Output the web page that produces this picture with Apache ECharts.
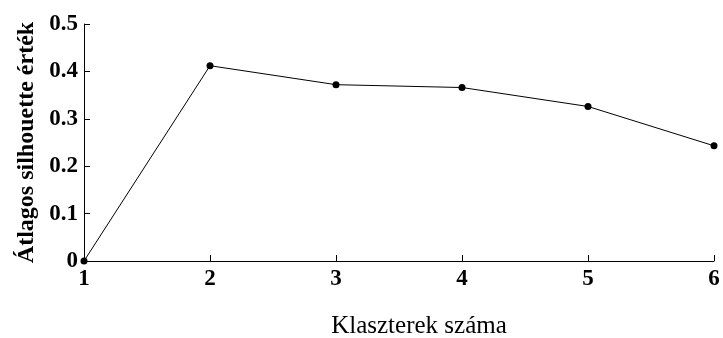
<!DOCTYPE html>
<html>
<head>
<meta charset="utf-8">
<script src="https://cdn.jsdelivr.net/npm/echarts@6/dist/echarts.min.js"></script>
<style>
html,body{margin:0;padding:0;background:#fff;}
#chart{width:723px;height:338px;}
</style>
</head>
<body>
<div id="chart"></div>
<script>
const clusters = [1, 2, 3, 4, 5, 6];
const silhouette = [0.0, 0.412, 0.372, 0.366, 0.326, 0.243];
const yTicks = [0, 0.1, 0.2, 0.3, 0.4, 0.5];
const xTitle = 'Klaszterek száma';
const yTitle = 'Átlagos silhouette érték';

const chart = echarts.init(document.getElementById('chart'), null, {renderer: 'canvas'});
const font = '"Liberation Serif", "Times New Roman", serif';
chart.setOption({
  animation: false,
  backgroundColor: '#fff',
  grid: {left: 84, right: 9, top: 24, bottom: 77, containLabel: false, outerBoundsMode: 'none'},
  xAxis: {
    type: 'value', min: 1, max: 6, interval: 1,
    name: xTitle, nameLocation: 'middle', nameGap: 53,
    nameTextStyle: {fontFamily: font, fontSize: 25, color: '#000', padding: [0, 0, 0, 40]},
    axisLine: {lineStyle: {color: '#000', width: 1}},
    axisTick: {inside: true, length: 6, lineStyle: {color: '#000'}},
    axisLabel: {fontFamily: font, fontSize: 23, fontWeight: 'bold', color: '#000', margin: 7},
    splitLine: {show: false}
  },
  yAxis: {
    type: 'value', min: yTicks[0], max: yTicks[yTicks.length - 1], interval: 0.1,
    name: yTitle, nameLocation: 'middle', nameGap: 44,
    nameTextStyle: {fontFamily: font, fontSize: 24, fontWeight: 'bold', color: '#000'},
    axisLine: {show: true, lineStyle: {color: '#000', width: 1}},
    axisTick: {show: true, inside: true, length: 6, lineStyle: {color: '#000'}},
    axisLabel: {fontFamily: font, fontSize: 23, fontWeight: 'bold', color: '#000', margin: 6,
      formatter: v => (Math.round(v * 10) / 10).toString()},
    splitLine: {show: false}
  },
  series: [{
    type: 'line',
    data: clusters.map((c, i) => [c, silhouette[i]]),
    symbol: 'circle', symbolSize: 7,
    itemStyle: {color: '#000'},
    lineStyle: {color: '#000', width: 1},
    clip: false
  }]
});
</script>
</body>
</html>
